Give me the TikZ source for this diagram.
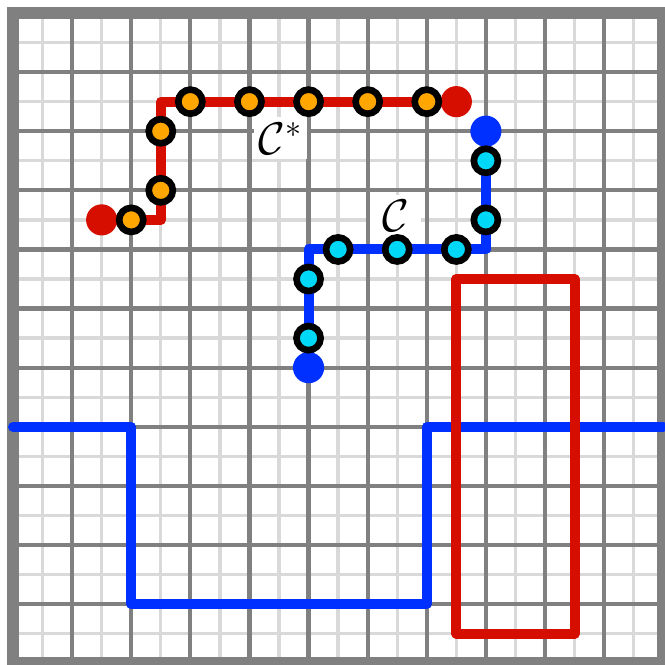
\documentclass[tikz,border=0pt]{standalone}
\usepackage{fix-cm}
\usepackage{tikz}
\definecolor{pathred}{RGB}{214,14,0}
\definecolor{pathblue}{RGB}{0,48,255}
\definecolor{dotorange}{RGB}{255,166,0}
\definecolor{dotcyan}{RGB}{0,216,248}
\definecolor{griddark}{RGB}{128,128,128}
\definecolor{gridlight}{RGB}{217,217,217}
\tikzset{
  lightgrid/.style={gridlight,line width=1.6pt},
  darkgrid/.style={griddark,line width=2pt},
  frameline/.style={griddark,line width=6pt},
  thickpath/.style={line width=4.8pt,line join=round,line cap=round},
  ringdot/.style={circle,draw=black,line width=3.2pt,minimum size=11.6pt,inner sep=0pt},
  enddot/.style={circle,minimum size=15pt,inner sep=0pt},
  lab/.style={fill=white,inner xsep=1.5pt,inner ysep=2.5pt,font=\fontsize{22}{26}\selectfont}
}
\begin{document}
\begin{tikzpicture}
\useasboundingbox (-0.22,0.22) rectangle (11.03,-11.015);
% grid
\foreach \i in {0.5,1.5,...,10.5} {
  \draw[lightgrid] (\i,0) -- (\i,-11);
  \draw[lightgrid] (0,-\i) -- (11,-\i);
}
\foreach \i in {1,...,10} {
  \draw[darkgrid] (\i,0) -- (\i,-11);
  \draw[darkgrid] (0,-\i) -- (11,-\i);
}
\draw[frameline] (0,0) rectangle (11,-11);

% labels
\node[lab,minimum width=0.9cm] (cstar) at (4.52,-2.12) {$\mathcal{C}^*$};
\node[lab,minimum width=0.87cm] (c) at (6.47,-3.43) {$\mathcal{C}$};

% bottom blue line and red rectangle
\coordinate (b0) at (0,-7);
\coordinate (b1) at (2,-7);
\coordinate (b2) at (2,-10);
\coordinate (b3) at (7,-10);
\coordinate (b4) at (7,-7);
\coordinate (b5) at (11,-7);
\draw[thickpath,pathblue] (b0) -- (b1) -- (b2) -- (b3) -- (b4) -- (b5);
\coordinate (q0) at (7.5,-4.5);
\coordinate (q1) at (9.5,-10.5);
\draw[thickpath,pathred] (q0) rectangle (q1);

% path C*
\coordinate (s1) at (2.5,-3.5);
\coordinate (s2) at (2.5,-1.5);
\node[enddot,fill=pathred] (rs) at (1.5,-3.5) {};
\node[enddot,fill=pathred] (re) at (7.5,-1.5) {};
\draw[thickpath,pathred,line cap=butt] (rs.center) -- (s1) -- (s2) -- (re.center);
\node[ringdot,fill=dotorange] (o1) at (2,-3.5) {};
\node[ringdot,fill=dotorange] (o2) at (2.5,-3) {};
\node[ringdot,fill=dotorange] (o3) at (2.5,-2) {};
\node[ringdot,fill=dotorange] (o4) at (3,-1.5) {};
\node[ringdot,fill=dotorange] (o5) at (4,-1.5) {};
\node[ringdot,fill=dotorange] (o6) at (5,-1.5) {};
\node[ringdot,fill=dotorange] (o7) at (6,-1.5) {};
\node[ringdot,fill=dotorange] (o8) at (7,-1.5) {};

% path C
\coordinate (t1) at (8,-4);
\coordinate (t2) at (5,-4);
\node[enddot,fill=pathblue] (bs) at (8,-2) {};
\node[enddot,fill=pathblue] (be) at (5,-6) {};
\draw[thickpath,pathblue,line cap=butt] (bs.center) -- (t1) -- (t2) -- (be.center);
\node[ringdot,fill=dotcyan] (c1) at (8,-2.5) {};
\node[ringdot,fill=dotcyan] (c2) at (8,-3.5) {};
\node[ringdot,fill=dotcyan] (c3) at (7.5,-4) {};
\node[ringdot,fill=dotcyan] (c4) at (6.5,-4) {};
\node[ringdot,fill=dotcyan] (c5) at (5.5,-4) {};
\node[ringdot,fill=dotcyan] (c6) at (5,-4.5) {};
\node[ringdot,fill=dotcyan] (c7) at (5,-5.5) {};
\end{tikzpicture}
\end{document}
